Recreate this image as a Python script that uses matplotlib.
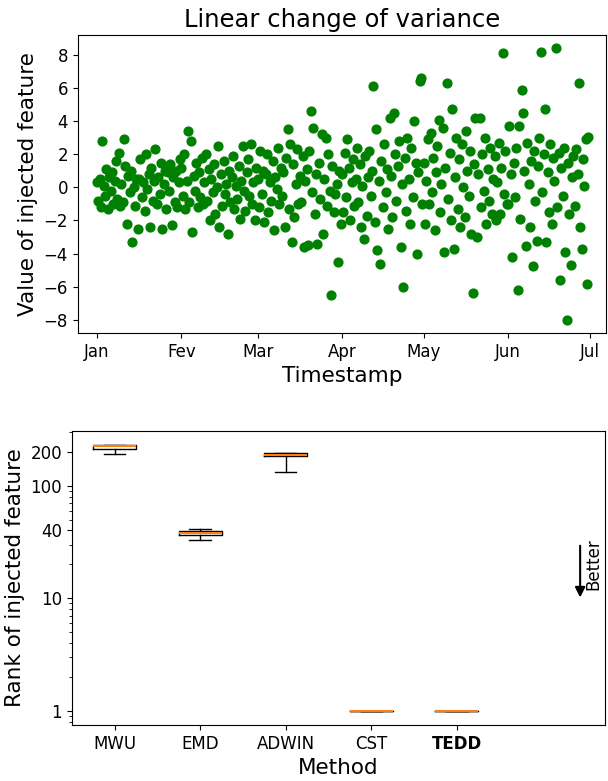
import numpy as np
import pandas as pd
import matplotlib
matplotlib.use('Agg')
import matplotlib.pyplot as plt

# injected feature, one value every 12 hours (2019-01-01 .. 2019-06-30 12:00)
jan = [0.3, -0.8, 0.5, -1.2, 2.8, 0.1, -0.5, 1.1, -1.3, 0.6,
       -0.2, 0.9, -1.0, 0.4, 1.6, -0.7, 2.1, -1.1, 0.2, -0.9,
       2.9, 1.3, -2.2, 0.7, -0.3, 1.0, -3.3, 0.0, -1.1, 0.5,
       -2.5, 0.5, 1.7, -0.6, 0.3, -1.4, 2.0, -0.1, 0.8, -2.4,
       1.2, -0.8, 0.4, 2.3, -1.0, 0.6, -0.4, 1.5, -2.5, 0.2,
       1.0, -1.3, 0.9, -0.2, 1.4, -2.3, 0.6, -0.9, 1.0, -1.2,
       0.3, 1.7]
fev = [1.2, -0.5, 2.0, -1.3, 0.4, 3.4, -0.9, 2.8, -2.7, 0.7,
       -0.2, 1.5, -1.2, 0.9, -0.6, 1.8, -1.0, 0.3, 2.0, -0.8,
       1.1, -2.0, 0.5, -0.3, 1.4, -1.6, 0.0, 2.5, -2.4, 0.8,
       -1.1, 1.6, -0.4, 0.2, -2.8, 1.0, -0.9, 0.6, 1.9, -1.3,
       0.1, -0.7, 1.3, -1.9, 0.4, 2.5, -0.2, -1.4, 0.9, 1.7,
       -0.5, 2.65, -1.0, 0.3, -2.0, 1.2]
mar = [0.5, -1.2, 2.2, -0.4, 1.0, -2.1, 0.8, 2.0, -1.5, 0.3,
       -0.8, 1.6, -2.6, 0.6, -0.1, 2.4, -1.0, 1.2, -0.5, 0.9,
       -2.4, 1.8, 3.5, -1.3, 2.6, -3.3, 1.4, -1.8, 0.2, 2.3,
       -1.0, 0.7, -0.9, 1.9, -3.6, 0.4, 1.1, -3.5, 2.2, 4.6,
       -0.3, 3.6, -1.6, 0.8, -3.4, 1.5, -0.7, 3.25, -2.8, 0.5,
       3.0, -1.1, 2.0, -0.2, -6.5, 1.3, -1.5, -0.4, 0.2, -4.5,
       1.0, -2.2]
apr = [0.8, -1.5, 2.1, -0.6, 2.95, 1.2, -2.0, 0.3, 1.7, -1.1,
       0.5, 2.4, -0.9, 1.4, -2.4, 0.1, -3.1, 1.9, -1.7, 0.6,
       2.2, -0.5, 1.0, 6.1, -2.1, 3.55, -3.8, 0.4, -4.6, 1.6,
       -1.2, 2.6, -0.3, 1.1, -2.5, 4.2, 0.7, -1.8, 4.5, 2.0,
       -0.8, 1.3, 2.8, -3.6, 0.2, -6.0, 1.8, -1.4, 3.0, 0.5,
       -2.2, 2.4, -0.6, 4.0, 1.5, -4.0, 0.9, 6.45, 6.6, -1.0]
may = [1.5, -2.2, 0.4, 2.9, -1.0, 3.3, -0.3, 1.8, -2.6, 0.9,
       2.5, 4.1, -1.5, 0.2, 3.6, -3.9, 1.2, 6.3, -0.7, 2.1,
       -2.0, 4.75, -3.7, 0.6, 3.0, -1.3, 1.7, -2.4, 2.6, 0.0,
       -1.8, 3.4, 1.0, -0.5, 2.2, -2.8, -6.4, 1.4, 4.2, -3.0,
       0.8, 4.2, -1.2, 2.0, -0.2, 3.0, -2.2, 1.1, -0.8, 2.4,
       -1.6, 0.5, 1.9, -2.0, 0.3, 2.7, -1.6, 1.2, 8.1, -0.4,
       2.2, -1.0]
jun = [-1.0, 3.7, 0.8, -4.2, 1.5, -0.6, 2.4, -6.2, 3.7, -1.9,
       5.9, 4.5, 1.0, -3.55, 2.7, 0.2, -2.4, 1.6, -4.75, 2.2,
       -0.8, -3.25, 1.3, 3.0, 8.2, -0.3, 2.0, 4.75, -3.3, 0.9,
       -1.5, 2.6, -2.2, 1.8, 0.4, 8.4, -1.2, 2.1, -5.6, 1.2,
       -0.5, 2.4, -3.9, -8.0, 1.5, -1.6, -4.7, 0.6, 1.9, -1.1,
       2.3, 0.8, 6.3, -2.4, -3.7, 1.7, 0.1, 2.9, -5.85, 3.05]

month_labels = ['Jan', 'Fev', 'Mar', 'Apr', 'May', 'Jun', 'Jul']

# rank of injected feature per method (box statistics)
methods = ['MWU', 'EMD', 'ADWIN', 'CST', 'TEDD']
rank_med = [227, 37.7, 189, 1, 1]
rank_q1 = [213, 36.2, 184, 1, 1]
rank_q3 = [231, 39.2, 194, 1, 1]
rank_lo = [190, 33.1, 132, 1, 1]
rank_hi = [231, 41.5, 194, 1, 1]
rank_ticks = [1, 10, 40, 100, 200]

values = jan + fev + mar + apr + may + jun
ts = pd.date_range('2019-01-01', periods=len(values), freq='12h')

fig = plt.figure(figsize=(6.08, 7.81), dpi=100)
ax1 = fig.add_axes([0.128, 0.5736, 0.869, 0.3814])
ax2 = fig.add_axes([0.118, 0.0717, 0.877, 0.3763])

ax1.scatter(ts, values, color='green', s=40, zorder=3)
ax1.set_title('Linear change of variance', fontsize=17.5)
ax1.set_xlabel('Timestamp', fontsize=15.5)
ax1.set_ylabel('Value of injected feature', fontsize=15.5)
month_starts = pd.date_range('2019-01-01', periods=7, freq='MS')
ax1.set_xticks(month_starts)
ax1.set_xticklabels(month_labels)
ax1.set_xlim(pd.Timestamp('2018-12-25'), pd.Timestamp('2019-07-07'))
ax1.set_ylim(-8.8, 9.2)
ax1.set_yticks([-8, -6, -4, -2, 0, 2, 4, 6, 8])
ax1.tick_params(labelsize=12)

stats = []
for i, m in enumerate(methods):
    stats.append({'med': rank_med[i], 'q1': rank_q1[i], 'q3': rank_q3[i],
                  'whislo': rank_lo[i], 'whishi': rank_hi[i], 'fliers': [], 'label': m})
ax2.bxp(stats, positions=range(1, len(methods) + 1), widths=0.5,
        medianprops={'color': 'C1', 'linewidth': 1.5})
ax2.set_yscale('log')
ax2.set_ylim(0.75, 305)
ax2.set_xlim(0.5, 6.73)
ax2.set_yticks(rank_ticks)
ax2.set_yticklabels([str(t) for t in rank_ticks])
ax2.set_xticks(range(1, len(methods) + 1))
ax2.set_xticklabels(methods)
ax2.get_xticklabels()[-1].set_fontweight('bold')
ax2.tick_params(labelsize=12)
ax2.set_xlabel('Method', fontsize=15.5)
ax2.set_ylabel('Rank of injected feature', fontsize=15.5)
ax2.annotate('', xy=(6.44, 9.6), xytext=(6.44, 31),
             arrowprops=dict(arrowstyle='-|>', color='black', lw=1.5, mutation_scale=15))
ax2.text(6.6, 20, 'Better', rotation=90, fontsize=12, ha='center', va='center')

fig.savefig('out.png', dpi=100)
